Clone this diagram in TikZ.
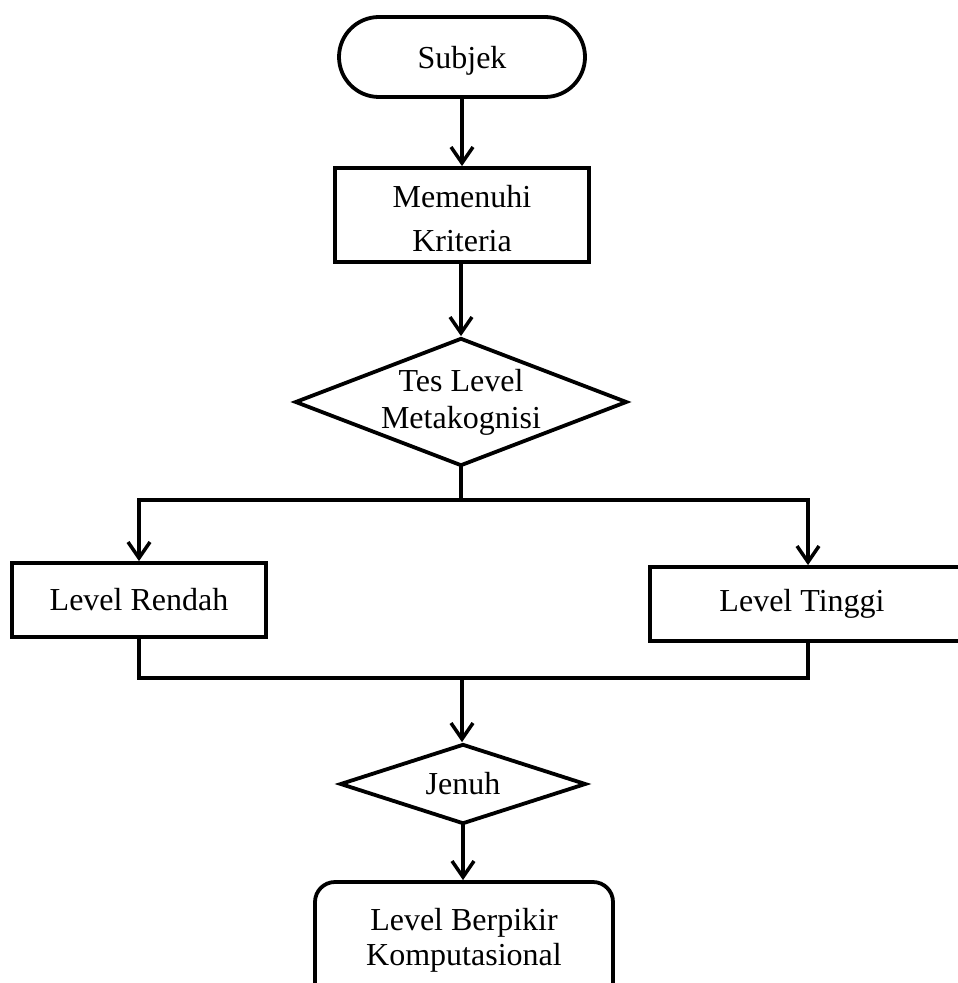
\documentclass[tikz,border=0pt]{standalone}
\usepackage{fontspec}
\setmainfont{Liberation Serif}
\usetikzlibrary{shapes.geometric,arrows.meta}
\begin{document}
\begin{tikzpicture}[x=0.5pt,y=-0.5pt,
  every node/.style={font=\fontsize{16}{18.5}\selectfont, align=center, inner sep=0pt},
  conn/.style={line width=1.75pt, line cap=rect},
  flow/.style={conn, -{Straight Barb[length=8pt,width=11pt,line width=1.75pt]}},
  boxed/.style={draw, line width=1.9pt, rectangle},
  decide/.style={draw, line width=1.9pt, diamond},
]
\useasboundingbox (0,0) rectangle (957,983);

% process boxes and terminals
\node[boxed, rounded corners=20pt, minimum width=123pt, minimum height=40pt, text depth=0pt] (subjek) at (462,57) {Subjek};
\node[boxed, minimum width=127pt, minimum height=47pt] (kriteria) at (462,215) {};
\node[font=\fontsize{16}{22}\selectfont] (kriteriaLabel) at (462,219) {Memenuhi\\Kriteria};
\node[boxed, minimum width=127pt, minimum height=37pt] (rendah) at (139,600) {Level Rendah};
\node[boxed, minimum width=156pt, minimum height=37pt] (tinggi) at (806,604) {};
\node (tinggiLabel) at (802,604) {Level Tinggi};
\node[boxed, rounded corners=10pt, minimum width=149pt, minimum height=64pt] (hasil) at (464,946) {};
\node[font=\fontsize{16}{17.5}\selectfont] (hasilLabel) at (464,940) {Level Berpikir\\Komputasional};

% decisions: empty diamonds with their labels on top
\node[decide, minimum width=166pt, minimum height=64pt] (tes) at (461,402) {};
\node (tesLabel) at (tes.center) {Tes Level\\Metakognisi};
\node[decide, minimum width=123pt, minimum height=40pt] (jenuh) at (463,784) {};
\node (jenuhLabel) at (jenuh.center) {Jenuh};

% branch and join points
\coordinate (sL) at (139,500);
\coordinate (sR) at (808,500);
\coordinate (jL) at (139,678);
\coordinate (jR) at (808,678);
\coordinate (jM) at (462,678);

% main flow
\draw[flow] (subjek) -- (kriteria);
\draw[flow] (kriteria.south -| tes.north) -- (tes.north);
\draw[conn] (tes.south) -- (tes.south |- sL);
\draw[conn] (sL) -- (sR);
\draw[flow] (sL) -- (rendah.north);
\draw[flow] (sR) -- (sR |- tinggi.north);
\draw[conn] (rendah.south) -- (jL) -- (jR) -- (jR |- tinggi.south);
\draw[flow] (jM) -- (jM |- jenuh.north);
\draw[flow] (jenuh.south) -- (jenuh.south |- hasil.north);
\end{tikzpicture}
\end{document}
